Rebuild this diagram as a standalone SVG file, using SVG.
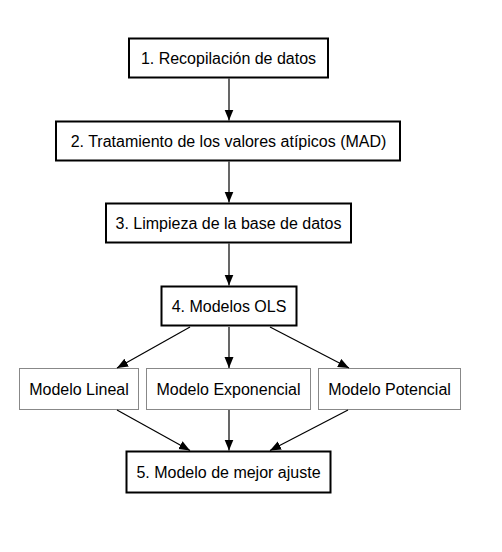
<svg xmlns="http://www.w3.org/2000/svg" width="502" height="552" viewBox="0 0 502 552">
<style>
.main{fill:#fff;stroke:#000;stroke-width:2}
.sub{fill:#fff;stroke:#888;stroke-width:1}
text{font-family:"Liberation Sans",Arial,sans-serif;font-size:16px;fill:#000;text-anchor:middle;dominant-baseline:central}
.edge{stroke:#000;stroke-width:1.2;fill:none;marker-end:url(#ah)}
</style>
<defs>
<marker id="ah" viewBox="0 0 11 10" refX="11" refY="5" markerWidth="11" markerHeight="10" markerUnits="userSpaceOnUse" orient="auto">
<path d="M0,0.5 L11,5 L0,9.5 Z" fill="#000"/>
</marker>
</defs>
<rect width="502" height="552" fill="#fff"/>
<g id="n1"><rect class="main" x="129" y="38.5" width="199" height="39"/><text x="228.5" y="58">1. Recopilación de datos</text></g>
<g id="n2"><rect class="main" x="56" y="121.5" width="344" height="39"/><text x="228.5" y="141">2. Tratamiento de los valores atípicos (MAD)</text></g>
<g id="n3"><rect class="main" x="106" y="203.5" width="245" height="39"/><text x="228.5" y="223">3. Limpieza de la base de datos</text></g>
<g id="n4"><rect class="main" x="161.5" y="286.5" width="135" height="39"/><text x="229" y="306">4. Modelos OLS</text></g>
<g id="n5"><rect class="sub" x="19.5" y="368.5" width="119" height="41"/><text x="79" y="389">Modelo Lineal</text></g>
<g id="n6"><rect class="sub" x="146.5" y="368.5" width="164" height="41"/><text x="228.5" y="389">Modelo Exponencial</text></g>
<g id="n7"><rect class="sub" x="318.5" y="368.5" width="142" height="41"/><text x="389.5" y="389">Modelo Potencial</text></g>
<g id="n8"><rect class="main" x="126.5" y="451.5" width="204" height="41"/><text x="228.5" y="472">5. Modelo de mejor ajuste</text></g>
<g id="edges">
<line class="edge" x1="229" y1="78.5" x2="229" y2="120.5"/>
<line class="edge" x1="229" y1="161.5" x2="229" y2="202.5"/>
<line class="edge" x1="229" y1="243.5" x2="229" y2="285.5"/>
<line class="edge" x1="190" y1="327" x2="117" y2="368"/>
<line class="edge" x1="229" y1="327" x2="229" y2="368"/>
<line class="edge" x1="270" y1="327" x2="349" y2="368"/>
<line class="edge" x1="117" y1="410" x2="190" y2="450.5"/>
<line class="edge" x1="229" y1="410" x2="229" y2="450.5"/>
<line class="edge" x1="348" y1="410" x2="270" y2="450.5"/>
</g>
</svg>
